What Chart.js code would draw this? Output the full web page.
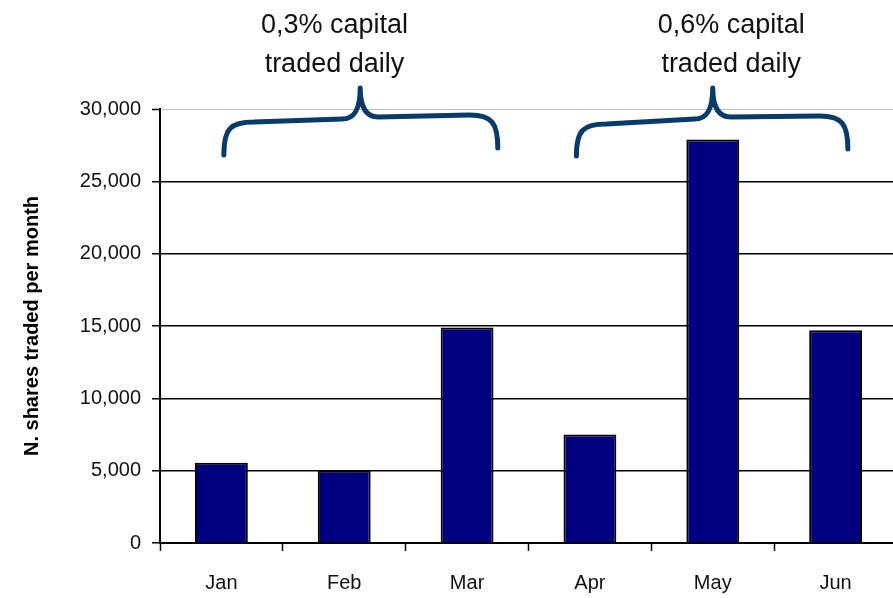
<!DOCTYPE html>
<html>
<head>
<meta charset="utf-8">
<script src="https://cdn.jsdelivr.net/npm/chart.js@4.4.1/dist/chart.umd.min.js"></script>
<style>
  html, body { margin: 0; padding: 0; background: #fff; overflow: hidden; }
  #wrap { width: 897px; height: 598px; }
</style>
</head>
<body>
<div id="wrap"><canvas id="sharesChart"></canvas></div>
<script>
const months = ['Jan', 'Feb', 'Mar', 'Apr', 'May', 'Jun'];
const sharesTraded = [5550, 5000, 14900, 7500, 27900, 14700];
const yMax = 30000;
const yStep = 5000;

// text above each group of months
const periodLabels = [
    ['0,3% capital', 'traded daily'],
    ['0,6% capital', 'traded daily']
];

// braces: x in category units, y as px offsets from the top of the plot
const braces = [
    { x0: 0.02, xc: 1.13, x1: 2.25, textX: 0.92, tip0: 46, armA: 13, armB: 10, armC: 8, armD: 6, tip1: 39, cusp: -21 },
    { x0: 2.89, xc: 4.0, x1: 5.1, textX: 4.15, tip0: 47, armA: 15, armB: 10, armC: 8, armD: 7, tip1: 40, cusp: -21 }
];

const FONT = "'Liberation Sans', Arial, sans-serif";

const bracePlugin = {
    id: 'braces',
    afterDraw(chart) {
        const ctx = chart.ctx;
        const x = chart.scales.x;
        const top = chart.chartArea.top;
        ctx.save();
        braces.forEach((b, i) => {
            const x0 = x.getPixelForValue(b.x0);
            const xc = x.getPixelForValue(b.xc);
            const x1 = x.getPixelForValue(b.x1);
            ctx.beginPath();
            ctx.moveTo(x0, top + b.tip0);
            ctx.bezierCurveTo(x0, top + b.armA + 6, x0 + 7, top + b.armA, x0 + 30, top + b.armA);
            ctx.lineTo(xc - 18, top + b.armB);
            ctx.bezierCurveTo(xc - 6, top + b.armB, xc, top + b.armB - 9, xc, top + b.cusp);
            ctx.bezierCurveTo(xc, top + b.armC - 9, xc + 6, top + b.armC, xc + 18, top + b.armC);
            ctx.lineTo(x1 - 28, top + b.armD);
            ctx.bezierCurveTo(x1 - 6, top + b.armD, x1, top + b.armD + 8, x1, top + b.tip1);
            ctx.strokeStyle = '#083b6c';
            ctx.lineWidth = 5;
            ctx.lineCap = 'round';
            ctx.lineJoin = 'round';
            ctx.stroke();

            const tx = x.getPixelForValue(b.textX);
            ctx.fillStyle = '#111';
            ctx.font = '27px ' + FONT;
            ctx.textAlign = 'center';
            ctx.textBaseline = 'alphabetic';
            ctx.fillText(periodLabels[i][0], tx, top - 76);
            ctx.fillText(periodLabels[i][1], tx, top - 37);
        });
        ctx.restore();
    }
};

const ctx = document.getElementById('sharesChart').getContext('2d');
const sharesChart = new Chart(ctx, {
    type: 'bar',
    data: {
        labels: months,
        datasets: [{
            data: sharesTraded,
            backgroundColor: '#000080',
            borderColor: '#000',
            borderWidth: 2,
            categoryPercentage: 1,
            barPercentage: 0.43
        }]
    },
    options: {
        responsive: true,
        maintainAspectRatio: false,
        animation: false,
        layout: {
            padding: { top: 109, right: 0, bottom: 0, left: 0 }
        },
        plugins: {
            legend: { display: false },
            tooltip: { enabled: false }
        },
        scales: {
            x: {
                afterFit: (scale) => { scale.height = 55; },
                grid: {
                    offset: true,
                    drawOnChartArea: false,
                    tickLength: 8,
                    tickColor: '#000',
                    tickWidth: 1.5
                },
                border: { display: true, color: '#000', width: 2 },
                ticks: {
                    color: '#111',
                    padding: 20,
                    font: { size: 20, family: FONT }
                }
            },
            y: {
                min: 0,
                max: yMax,
                afterFit: (scale) => { scale.width = 160; },
                grid: {
                    color: (c) => c.tick && c.tick.value === yMax ? '#bdbdbd' : '#000',
                    lineWidth: (c) => c.tick && c.tick.value === yMax ? 1 : 1.5,
                    tickColor: '#000',
                    tickLength: 8,
                    tickWidth: 1.5
                },
                border: { display: true, color: '#000', width: 2 },
                ticks: {
                    stepSize: yStep,
                    color: '#111',
                    padding: 11,
                    font: { size: 20, family: FONT },
                    callback: (v) => v.toLocaleString('en-US')
                },
                title: {
                    display: true,
                    text: 'N. shares traded per month',
                    color: '#000',
                    padding: { top: 20, bottom: 0 },
                    font: { size: 20, weight: 'bold', family: FONT }
                }
            }
        }
    },
    plugins: [bracePlugin]
});
</script>
</body>
</html>
